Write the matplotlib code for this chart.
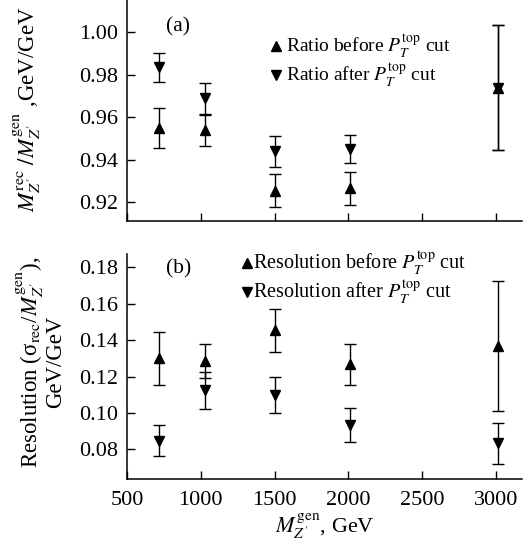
import matplotlib
matplotlib.use("Agg")
import matplotlib.pyplot as plt
from matplotlib.ticker import FormatStrFormatter, FixedLocator

plt.rcParams["font.family"] = ["Liberation Serif", "DejaVu Serif"]
plt.rcParams["mathtext.fontset"] = "stix"

# Generated Z' masses (GeV)
mass = [720, 1025, 1500, 2010, 3010]

# (a) reconstructed / generated mass ratio
ratio_before = [0.955, 0.954, 0.9255, 0.9265, 0.974]
ratio_before_err = [0.0095, 0.0073, 0.0077, 0.0079, 0.0294]
ratio_after = [0.9835, 0.969, 0.944, 0.945, 0.974]
ratio_after_err = [0.0068, 0.0073, 0.0073, 0.0065, 0.0294]

# (b) mass resolution
res_before = [0.130, 0.1287, 0.1455, 0.1267, 0.1369]
res_before_err = [0.0145, 0.0093, 0.0118, 0.0113, 0.0357]
res_after = [0.0846, 0.1124, 0.110, 0.0934, 0.0833]
res_after_err = [0.0085, 0.0100, 0.0100, 0.0092, 0.0114]

x_ticks = [500, 1000, 1500, 2000, 2500, 3000]
ratio_ticks = [0.92, 0.94, 0.96, 0.98, 1.00]
res_ticks = [0.08, 0.10, 0.12, 0.14, 0.16, 0.18]

W, H = 528, 547
fig = plt.figure(figsize=(W / 100, H / 100), dpi=100)
left = 127 / W
width = 395 / W
ax_a = fig.add_axes([left, (H - 221) / H, width, 221 / H])
ax_b = fig.add_axes([left, (H - 479) / H, width, 225 / H])

ebkw = dict(ls="none", color="black", ecolor="black", elinewidth=1.0,
            capsize=4, capthick=1.0, markersize=7.5)

ax_a.errorbar(mass, ratio_before, yerr=ratio_before_err, marker="^", **ebkw)
ax_a.errorbar(mass, ratio_after, yerr=ratio_after_err, marker="v", **ebkw)
ax_b.errorbar(mass, res_before, yerr=res_before_err, marker="^", **ebkw)
ax_b.errorbar(mass, res_after, yerr=res_after_err, marker="v", **ebkw)

for ax in (ax_a, ax_b):
    ax.set_xlim(500, 3175)
    ax.xaxis.set_major_locator(FixedLocator(x_ticks))
    ax.spines["top"].set_visible(False)
    ax.spines["right"].set_visible(False)
    for s in ("left", "bottom"):
        ax.spines[s].set_linewidth(1.1)
    ax.tick_params(direction="in", length=5.5, width=1.0, labelsize=16,
                   pad=6.5, top=False, right=False)
    ax.yaxis.set_major_formatter(FormatStrFormatter("%.2f"))

ax_a.set_ylim(0.9112, 1.0152)
ax_a.yaxis.set_major_locator(FixedLocator(ratio_ticks))
ax_a.tick_params(axis="x", labelbottom=False)

ax_b.set_ylim(0.0637, 0.1873)
ax_b.yaxis.set_major_locator(FixedLocator(res_ticks))
ax_b.tick_params(axis="x", pad=8.5)

ax_a.set_ylabel(r"$M_{Z'}^{\rm rec}\ /M_{Z'}^{\rm gen}\ $,GeV/GeV", fontsize=16.5)
ax_a.yaxis.set_label_coords(-0.213, 0.505)
ax_b.set_ylabel("Resolution (σ$_{\\rm rec}$/$M_{Z'}^{\\rm gen}$),\nGeV/GeV",
                fontsize=16.5, linespacing=0.95)
ax_b.yaxis.set_label_coords(-0.155, 0.52)
ax_b.set_xlabel(r"$M_{Z'}^{\rm gen}$, GeV", fontsize=16, labelpad=1)

ax_a.text(0.13, 0.88, "(a)", transform=ax_a.transAxes, fontsize=15.5,
          ha="center", va="center")
ax_b.text(0.13, 0.935, "(b)", transform=ax_b.transAxes, fontsize=15.5,
          ha="center", va="center")

pt = r"$P_T^{\rm top}$"


def legend_rows(ax, x_mark, x_text, rows, ms, fs):
    for y, marker, label in rows:
        ax.plot([x_mark], [y], marker=marker, color="black", ms=ms,
                ls="none", transform=ax.transAxes, clip_on=False)
        ax.text(x_text, y, label, transform=ax.transAxes, fontsize=fs,
                ha="left", va="center")


legend_rows(ax_a, 0.377, 0.402, [
    (0.79, "^", f"Ratio before {pt} cut"),
    (0.66, "v", f"Ratio after {pt} cut"),
], 7.5, 14)
legend_rows(ax_b, 0.304, 0.318, [
    (0.962, "^", f"Resolution before {pt} cut"),
    (0.830, "v", f"Resolution after {pt} cut"),
], 6.5, 14.5)

fig.savefig("out.png", dpi=100)
